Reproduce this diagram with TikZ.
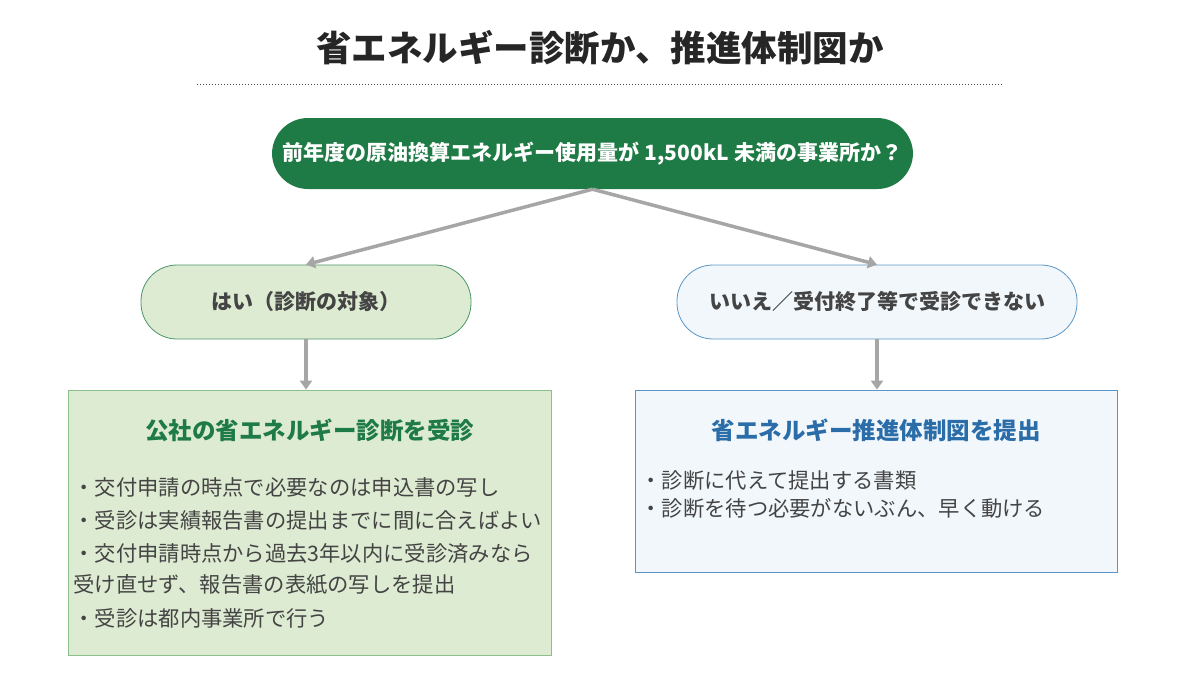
\documentclass[tikz,border=0pt]{standalone}
\usepackage{fontspec}
\setmainfont{Noto Sans CJK JP}
\usetikzlibrary{arrows.meta}
\definecolor{dgreen}{HTML}{1E7B45}
\definecolor{lgreen}{HTML}{DDEBD2}
\definecolor{bgreen}{HTML}{8CC08A}
\definecolor{lblue}{HTML}{F2F7FB}
\definecolor{bblue}{HTML}{5A95C6}
\definecolor{tblue}{HTML}{2A6DA8}
\definecolor{txt}{HTML}{444444}
\definecolor{arr}{HTML}{A6A6A6}
\begin{document}
\begin{tikzpicture}[x=1pt,y=-1pt,
  pill/.style={rounded corners=36pt,minimum height=73pt,font=\fontsize{21}{24}\selectfont\bfseries},
  box/.style={draw,line width=0.8pt},
  item/.style={anchor=west,font=\fontsize{21.3}{24}\selectfont,text=txt},
  conn/.style={draw=arr,line width=3.5pt,-{Triangle[length=9pt,width=12pt]}}]
\useasboundingbox (0,0) rectangle (1200,675);
\node[font=\fontsize{35.5}{40}\selectfont\bfseries,text=black!85] (title) at (600,48) {省エネルギー診断か、推進体制図か};
\coordinate (d1) at (197,84); \coordinate (d2) at (1003,84);
\draw[dotted,line width=1pt,black!70] (d1) -- (d2);
\node[pill,fill=dgreen,text=white,minimum width=641pt,minimum height=71pt] (q) at (592.5,153.5) {前年度の原油換算エネルギー使用量が 1,500kL 未満の事業所か？};
\node[pill,draw=dgreen!80,line width=0.8pt,fill=lgreen,text=txt,minimum width=330pt,minimum height=74pt] (yes) at (306,302) {はい（診断の対象）};
\node[pill,draw=bblue,line width=0.8pt,fill=lblue,text=txt,minimum width=400pt,minimum height=74pt] (no) at (877,302) {いいえ／受付終了等で受診できない};
\node[box,draw=bgreen,fill=lgreen,minimum width=483pt,minimum height=265pt] (lb) at (309.5,522.5) {};
\node[box,draw=bblue,fill=lblue,minimum width=482pt,minimum height=182pt] (rb) at (876,481) {};
\draw[conn] (q.south) -- (yes.north);
\draw[conn] (q.south) -- (no.north);
\draw[conn] (yes.south) -- (yes.south |- lb.north);
\draw[conn] (no.south) -- (no.south |- rb.north);
\node[font=\fontsize{23.5}{26}\selectfont\bfseries,text=dgreen] (lt) at (309.5,430) {公社の省エネルギー診断を受診};
\node[item] (l1) at (70,487) {・交付申請の時点で必要なのは申込書の写し};
\node[item] (l2) at (70,520) {・受診は実績報告書の提出までに間に合えばよい};
\node[item] (l3) at (70,553) {・交付申請時点から過去3年以内に受診済みなら};
\node[item] (l4) at (70,585) {受け直せず、報告書の表紙の写しを提出};
\node[item] (l5) at (70,618) {・受診は都内事業所で行う};
\node[font=\fontsize{23.5}{26}\selectfont\bfseries,text=tblue] (rt) at (876,430) {省エネルギー推進体制図を提出};
\node[item] (r1) at (637,480) {・診断に代えて提出する書類};
\node[item] (r2) at (637,508) {・診断を待つ必要がないぶん、早く動ける};
\end{tikzpicture}
\end{document}
